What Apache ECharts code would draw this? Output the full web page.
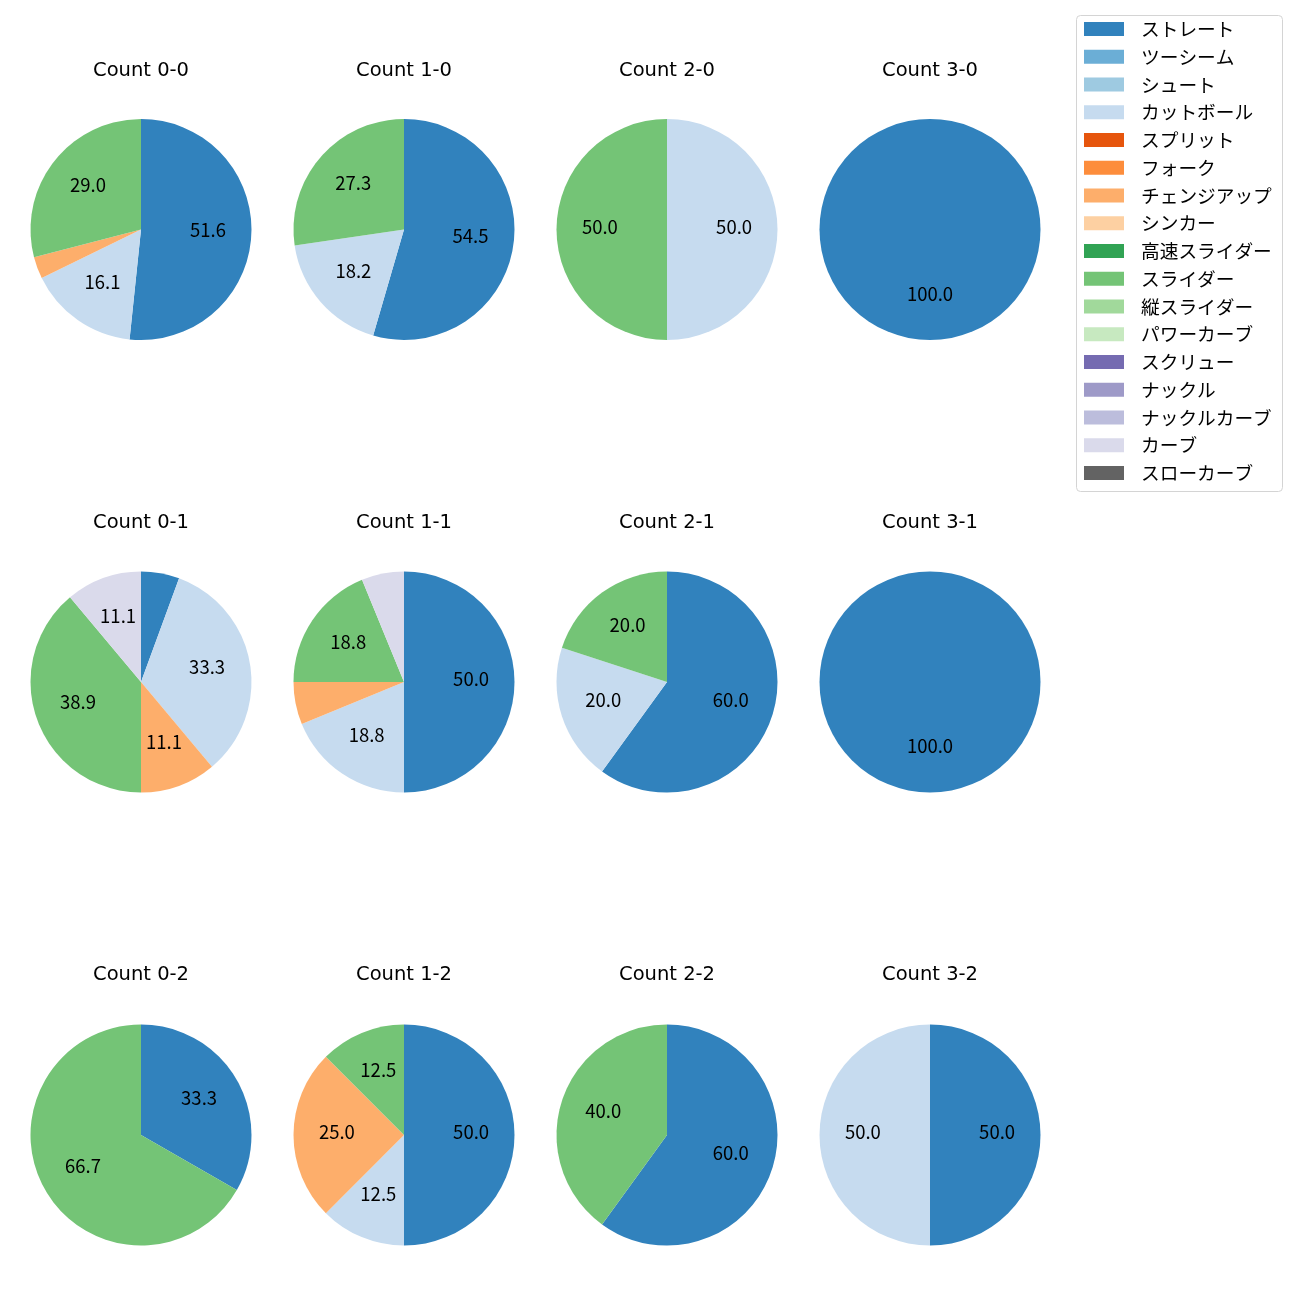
<!DOCTYPE html>
<html>
<head>
<meta charset="utf-8">
<script src="https://cdn.jsdelivr.net/npm/echarts@6/dist/echarts.min.js"></script>
<style>html,body{margin:0;padding:0;background:#fff;}#main{width:1300px;height:1300px;}</style>
</head>
<body>
<div id="main"></div>
<script>
// Pitch types (legend order) and tab20c colours
const pitchTypes = ['ストレート','ツーシーム','シュート','カットボール','スプリット','フォーク','チェンジアップ','シンカー','高速スライダー','スライダー','縦スライダー','パワーカーブ','スクリュー','ナックル','ナックルカーブ','カーブ','スローカーブ'];
const pitchColors = ['#3182bd','#6baed6','#9ecae1','#c6dbef','#e6550d','#fd8d3c','#fdae6b','#fdd0a2','#31a354','#74c476','#a1d99b','#c7e9c0','#756bb1','#9e9ac8','#bcbddc','#dadaeb','#636363'];

// Panel titles (row-major: 3 rows x 4 columns)
const countTitles = ['Count 0-0','Count 1-0','Count 2-0','Count 3-0',
                     'Count 0-1','Count 1-1','Count 2-1','Count 3-1',
                     'Count 0-2','Count 1-2','Count 2-2','Count 3-2'];

// Percentages per count, aligned with pitchTypes
const c00 = [51.6,0,0,16.1,0,0,3.2,0,0,29.0,0,0,0,0,0,0,0];
const c10 = [54.5,0,0,18.2,0,0,0,0,0,27.3,0,0,0,0,0,0,0];
const c20 = [0,0,0,50.0,0,0,0,0,0,50.0,0,0,0,0,0,0,0];
const c30 = [100.0,0,0,0,0,0,0,0,0,0,0,0,0,0,0,0,0];
const c01 = [5.6,0,0,33.3,0,0,11.1,0,0,38.9,0,0,0,0,0,11.1,0];
const c11 = [50.0,0,0,18.8,0,0,6.2,0,0,18.8,0,0,0,0,0,6.2,0];
const c21 = [60.0,0,0,20.0,0,0,0,0,0,20.0,0,0,0,0,0,0,0];
const c31 = [100.0,0,0,0,0,0,0,0,0,0,0,0,0,0,0,0,0];
const c02 = [33.3,0,0,0,0,0,0,0,0,66.7,0,0,0,0,0,0,0];
const c12 = [50.0,0,0,12.5,0,0,25.0,0,0,12.5,0,0,0,0,0,0,0];
const c22 = [60.0,0,0,0,0,0,0,0,0,40.0,0,0,0,0,0,0,0];
const c32 = [50.0,0,0,50.0,0,0,0,0,0,0,0,0,0,0,0,0,0];
const countValues = [c00,c10,c20,c30,c01,c11,c21,c31,c02,c12,c22,c32];

const FONT = '"Noto Sans CJK JP", "Noto Sans", sans-serif';
const TITLE_FONT = '"DejaVu Sans", sans-serif';
const colX = [141, 404, 667, 930];
const rowY = [229.5, 682, 1135];
const titleY = [70.5, 522.5, 974.5];
const R = 110.5;

const series = [];
const graphics = [];

// legend frame
graphics.push({
  type: 'rect', z: 0,
  shape: {x: 1076.5, y: 15.5, width: 206, height: 476, r: 4},
  style: {fill: 'rgba(255,255,255,0.8)', stroke: '#d4d4d4', lineWidth: 1}
});

countTitles.forEach((t, i) => {
  const col = i % 4, row = Math.floor(i / 4);
  const vals = countValues[i];
  const data = [];
  vals.forEach((v, k) => {
    if (v > 0) data.push({name: pitchTypes[k], value: v, itemStyle: {color: pitchColors[k]}});
  });
  const center = [colX[col], rowY[row]];
  series.push({
    type: 'pie', center: center, radius: [0, R],
    startAngle: 90, clockwise: true, animation: false, silent: true,
    avoidLabelOverlap: false, minAngle: 0,
    itemStyle: {borderWidth: 0},
    label: {show: false}, labelLine: {show: false},
    emphasis: {disabled: true},
    data: data
  });
  // transparent overlay ring so that inside labels sit at ~0.6 R
  series.push({
    type: 'pie', center: center, radius: [0.16 * R, R],
    startAngle: 90, clockwise: true, animation: false, silent: true,
    avoidLabelOverlap: false, legendHoverLink: false,
    itemStyle: {color: 'rgba(0,0,0,0)', borderWidth: 0},
    label: {
      show: true, position: 'inside', color: '#000', fontSize: 18.5, fontFamily: FONT,
      formatter: p => (p.value >= 10 ? p.value.toFixed(1) : '')
    },
    labelLayout: {dy: -3},
    labelLine: {show: false},
    emphasis: {disabled: true},
    data: data.map(d => ({name: d.name, value: d.value, itemStyle: {color: 'rgba(0,0,0,0)'}}))
  });
  graphics.push({
    type: 'text', x: colX[col], y: titleY[row], z: 10,
    style: {text: t, fill: '#000', font: '19.5px ' + TITLE_FONT, textAlign: 'center', textVerticalAlign: 'middle'}
  });
});

// hidden series carrying every pitch type for the legend
series.push({
  type: 'pie', center: [-500, -500], radius: [0, 1], silent: true, animation: false,
  label: {show: false}, labelLine: {show: false},
  data: pitchTypes.map((n, k) => ({name: n, value: 1, itemStyle: {color: pitchColors[k]}}))
});

const chart = echarts.init(document.getElementById('main'), null, {renderer: 'canvas'});
chart.setOption({
  backgroundColor: '#fff',
  animation: false,
  legend: {
    orient: 'vertical', left: 1084, top: 19.65, padding: 0,
    itemWidth: 40, itemHeight: 14, itemGap: 9.05,
    icon: 'rect', selectedMode: false,
    borderWidth: 0,
    textStyle: {fontSize: 18.7, lineHeight: 18.7, fontFamily: FONT, color: '#000', padding: [0, 0, 0, 12]},
    data: pitchTypes
  },
  graphic: graphics,
  series: series
});
</script>
</body>
</html>
